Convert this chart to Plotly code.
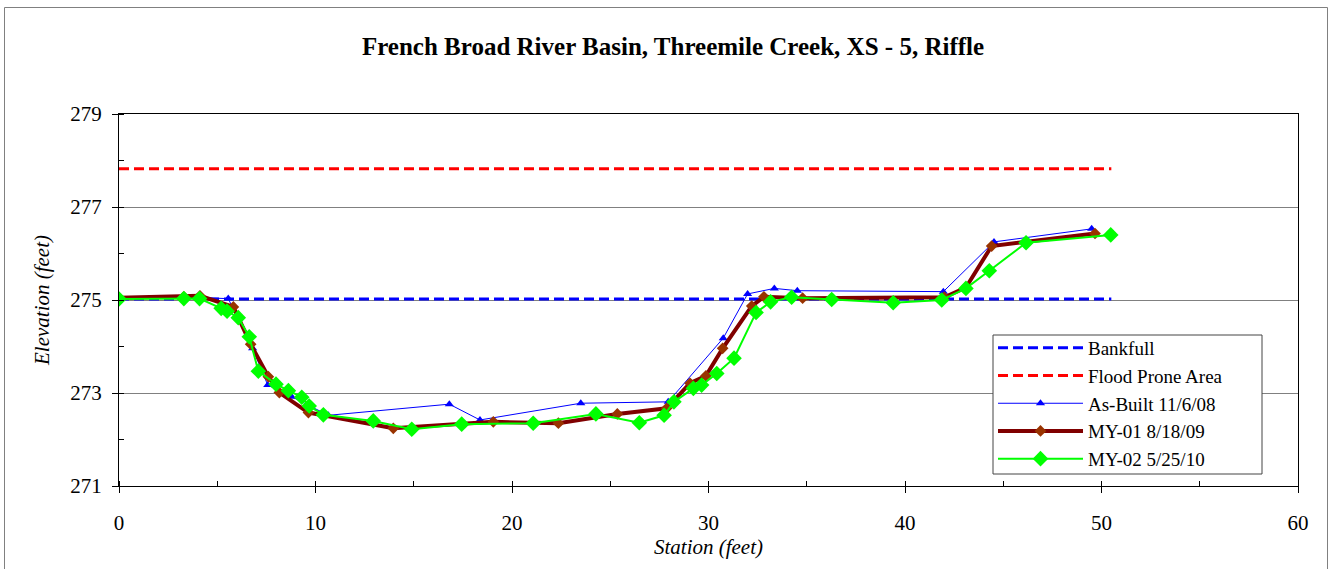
import plotly.graph_objects as go

# ---- data ----
bankfull_x = [0, 50.5]
bankfull_y = [275.02, 275.02]
flood_x = [0, 50.5]
flood_y = [277.82, 277.82]

asbuilt_x = [0, 4.1, 5.56, 6.8, 7.57, 8.79, 10.65, 16.81, 18.37, 23.5, 27.95,
             30.75, 31.99, 33.35, 34.52, 41.95, 44.53, 49.5]
asbuilt_y = [275.02, 275.05, 275.03, 273.96, 273.17, 272.92, 272.52, 272.76, 272.42,
             272.78, 272.81, 274.18, 275.13, 275.25, 275.20, 275.18, 276.25, 276.53]

my01_x = [0, 3.3, 4.12, 5.82, 6.7, 7.6, 8.16, 9.64, 13.96, 19.05, 22.36, 25.36,
          27.87, 29.06, 29.87, 30.72, 32.2, 32.82, 34.79, 42.0, 43.1, 44.41, 49.67]
my01_y = [275.05, 275.07, 275.09, 274.85, 274.05, 273.35, 273.01, 272.58, 272.24,
          272.38, 272.35, 272.55, 272.67, 273.21, 273.37, 273.96, 274.87, 275.07,
          275.04, 275.06, 275.27, 276.16, 276.43]

my02_x = [0, 3.3, 4.1, 5.2, 5.5, 6.07, 6.63, 7.09, 7.99, 8.62, 9.3, 9.68, 10.4,
          12.94, 14.9, 17.44, 21.08, 24.27, 26.48, 27.74, 28.24, 29.23, 29.65, 30.42,
          31.30, 32.42, 33.16, 34.23, 36.27, 39.4, 41.87, 43.1, 44.29, 46.16, 50.47]
my02_y = [275.02, 275.03, 275.03, 274.82, 274.76, 274.62, 274.21, 273.47, 273.19,
          273.05, 272.91, 272.72, 272.53, 272.40, 272.22, 272.33, 272.35, 272.55,
          272.36, 272.52, 272.81, 273.10, 273.17, 273.42, 273.75, 274.73, 274.96,
          275.06, 275.01, 274.94, 275.0, 275.25, 275.63, 276.23, 276.40]

title_text = "French Broad River Basin, Threemile Creek, XS - 5, Riffle"
x_title = "Station (feet)"
y_title = "Elevation (feet)"

FONT = "Liberation Serif, Times New Roman, serif"

# plot area in page pixels: x 119..1298, y 114..486 (body margin removed below)
PL, PR, PT, PB = 119, 1298, 114, 486
W, H = 1331, 569
PW, PH = PR - PL, PB - PT

fig = go.Figure()
fig.add_trace(go.Scatter(x=bankfull_x, y=bankfull_y, mode="lines", name="Bankfull",
                         line=dict(color="#0000FF", width=3, dash="10px,5px")))
fig.add_trace(go.Scatter(x=flood_x, y=flood_y, mode="lines", name="Flood Prone Area",
                         line=dict(color="#FF0000", width=3, dash="10px,5px")))
fig.add_trace(go.Scatter(x=asbuilt_x, y=asbuilt_y, mode="lines+markers", name="As-Built 11/6/08",
                         line=dict(color="#0000FF", width=1),
                         marker=dict(symbol="triangle-up", size=8, color="#0000FF")))
fig.add_trace(go.Scatter(x=my01_x, y=my01_y, mode="lines+markers", name="MY-01 8/18/09",
                         line=dict(color="#800000", width=4),
                         marker=dict(symbol="diamond", size=9, color="#993300")))
fig.add_trace(go.Scatter(x=my02_x, y=my02_y, mode="lines+markers", name="MY-02 5/25/10",
                         line=dict(color="#00FF00", width=2),
                         marker=dict(symbol="diamond", size=12, color="#00FF00")))

fig.update_layout(
    width=W, height=H,
    margin=dict(l=PL, r=W - PR, t=PT, b=H - PB, autoexpand=False),
    paper_bgcolor="white", plot_bgcolor="white",
    font=dict(family=FONT, size=21, color="black"),
    title=dict(text="<b>" + title_text + "</b>", x=673 / W, xanchor="center",
               y=1 - 46 / H, yanchor="middle", font=dict(size=25, family=FONT)),
    showlegend=True,
    legend=dict(x=(993 - PL) / PW, y=(PB - 329) / PH, xanchor="left", yanchor="top",
                bgcolor="rgba(0,0,0,0)", borderwidth=0,
                font=dict(size=19, family=FONT), tracegroupgap=0, itemwidth=85),
    xaxis=dict(range=[0, 60], dtick=10, tick0=0, showgrid=False, zeroline=False,
               showline=True, linecolor="black", linewidth=1, mirror=True,
               ticks="outside", ticklen=6, tickcolor="black", ticklabelstandoff=12,
               minor=dict(dtick=5, ticks="inside", ticklen=5, tickcolor="black", showgrid=False),
               title=dict(text="<i>" + x_title + "</i>", standoff=4, font=dict(size=21))),
    yaxis=dict(range=[271, 279], dtick=2, tick0=271, showgrid=True, gridcolor="#808080",
               gridwidth=1, zeroline=False, showline=True, linecolor="black", linewidth=1,
               mirror=True, ticks="outside", ticklen=6, tickcolor="black", ticklabelstandoff=6,
               minor=dict(dtick=1, ticks="inside", ticklen=5, tickcolor="black", showgrid=False),
               title=dict(text="<i>" + y_title + "</i>", standoff=14, font=dict(size=21))),
)

# legend box
fig.add_shape(type="rect", xref="paper", yref="paper",
              x0=(993 - PL) / PW, x1=(1262 - PL) / PW,
              y0=(PB - 474) / PH, y1=(PB - 335) / PH,
              line=dict(color="#444444", width=1), fillcolor="white", layer="above")

# outer chart frame
fig.add_shape(type="rect", xref="paper", yref="paper",
              x0=(4.5 - PL) / PW, x1=(1327.5 - PL) / PW,
              y0=(PB - 590) / PH, y1=(PB - 7.5) / PH,
              line=dict(color="#808080", width=1), fillcolor="rgba(0,0,0,0)", layer="below")

fig.write_html("out.html", config={"displayModeBar": False},
               post_script="document.body.style.margin='0px';")
